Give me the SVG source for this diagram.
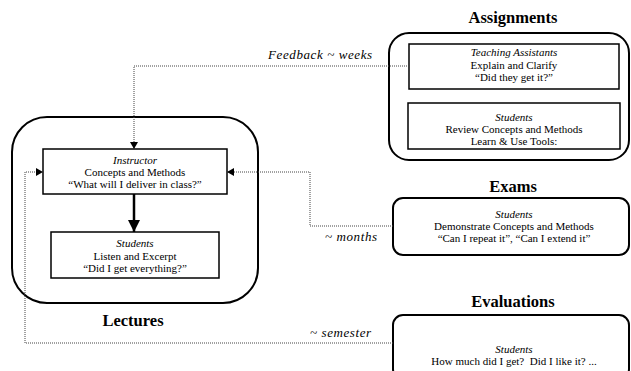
<svg xmlns="http://www.w3.org/2000/svg" width="631" height="371" viewBox="0 0 631 371" font-family="'Liberation Serif', 'DejaVu Serif', serif">
<style>
text{font-family:'Liberation Serif','DejaVu Serif',serif;fill:#000}
.t{font-size:11px;text-anchor:middle}
.i{font-style:italic}
.title{font-size:16.5px;font-weight:bold;text-anchor:middle}
.lbl{font-size:13px;font-style:italic;letter-spacing:0.6px}
.outer{fill:none;stroke:#000;stroke-width:2}
.box{fill:#fff;stroke:#000;stroke-width:1.5}
.dot{fill:none;stroke:#444;stroke-width:1;stroke-dasharray:1 1}
</style>
<defs>
<marker id="ah" markerWidth="8" markerHeight="8" refX="7" refY="4" orient="auto" markerUnits="userSpaceOnUse">
<path d="M0,0 L7,4 L0,8 Z" fill="#000"/>
</marker>
<marker id="ahb" markerWidth="12" markerHeight="12" refX="12" refY="6" orient="auto" markerUnits="userSpaceOnUse">
<path d="M0,0 L12,6 L0,12 Z" fill="#000"/>
</marker>
</defs>

<g id="lectures">
<rect class="outer" x="12" y="117" width="246" height="186" rx="35" ry="35"/>
<text class="title" x="133" y="326">Lectures</text>
</g>
<g id="instructor">
<rect class="box" x="43" y="149" width="184" height="45"/>
<text class="t i" x="135" y="164">Instructor</text>
<text class="t" x="135" y="176">Concepts and Methods</text>
<text class="t" x="135" y="188">“What will I deliver in class?”</text>
</g>
<g id="lecture-students">
<rect class="box" x="51" y="232" width="168" height="46"/>
<text class="t i" x="135" y="247">Students</text>
<text class="t" x="135" y="260">Listen and Excerpt</text>
<text class="t" x="135" y="272">“Did I get everything?”</text>
</g>

<g id="assignments">
<rect class="outer" x="389" y="33" width="240" height="127" rx="20" ry="20"/>
<text class="title" x="513" y="23">Assignments</text>
</g>
<g id="teaching-assistants">
<rect class="box" x="409" y="44" width="210" height="45"/>
<text class="t i" x="514" y="56">Teaching Assistants</text>
<text class="t" x="514" y="69">Explain and Clarify</text>
<text class="t" x="514" y="81">“Did they get it?”</text>
</g>
<g id="assignment-students">
<rect class="box" x="408" y="103" width="212" height="46"/>
<text class="t i" x="514" y="121">Students</text>
<text class="t" x="514" y="133">Review Concepts and Methods</text>
<text class="t" x="514" y="145">Learn &amp; Use Tools:</text>
</g>

<g id="exams">
<text class="title" x="513" y="192">Exams</text>
<rect class="outer" x="393" y="198" width="236" height="57" rx="10" ry="10"/>
<text class="t i" x="514" y="218">Students</text>
<text class="t" x="514" y="230">Demonstrate Concepts and Methods</text>
<text class="t" x="514" y="242">“Can I repeat it”, “Can I extend it”</text>
</g>

<g id="evaluations">
<text class="title" x="513" y="307">Evaluations</text>
<rect class="outer" x="393" y="315" width="236" height="64" rx="10" ry="10"/>
<text class="t i" x="514" y="353">Students</text>
<text class="t" x="514" y="365" xml:space="preserve">How much did I get?  Did I like it? ...</text>
</g>

<g id="connectors">
<polyline class="dot" points="409,66 134,66 134,149" marker-end="url(#ah)"/>
<polyline class="dot" points="393,226 310,226 310,172 227,172" marker-end="url(#ah)"/>
<polyline class="dot" points="393,343 25,343 25,172 43,172" marker-end="url(#ah)"/>
<line x1="134" y1="194" x2="134" y2="232" stroke="#000" stroke-width="2.5" marker-end="url(#ahb)"/>
<text class="lbl" x="268" y="59">Feedback ~ weeks</text>
<text class="lbl" x="325" y="241">~ months</text>
<text class="lbl" x="310" y="337">~ semester</text>
</g>
</svg>
